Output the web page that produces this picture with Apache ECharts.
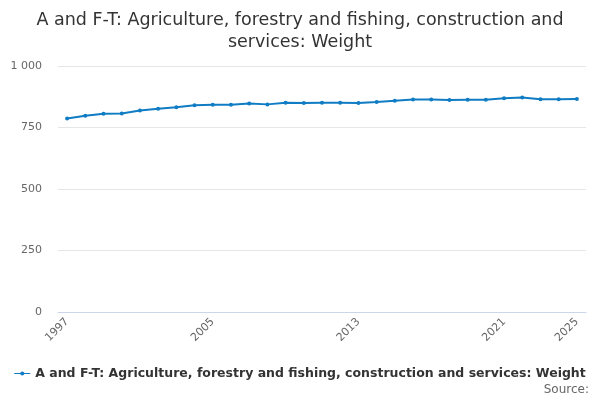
<!DOCTYPE html>
<html>
<head>
<meta charset="utf-8">
<script src="https://cdn.jsdelivr.net/npm/echarts@6/dist/echarts.min.js"></script>
<style>html,body{margin:0;padding:0;background:#fff}#c{width:600px;height:400px}</style>
</head>
<body>
<div id="c"></div>
<script>
var years = ['1997','1998','1999','2000','2001','2002','2003','2004','2005','2006','2007','2008','2009','2010','2011','2012','2013','2014','2015','2016','2017','2018','2019','2020','2021','2022','2023','2024','2025'];
var weights = [787,798,806,807,819,826,832,840,842,842,848,844,851,850,851,851,850,854,859,864,864,862,863,863,869,872,865,865,866];
var yTicks = [0,250,500,750,1000];
var seriesName = 'A and F-T: Agriculture, forestry and fishing, construction and services: Weight';
var titleText = 'A and F-T: Agriculture, forestry and fishing, construction and\nservices: Weight';

var chart = echarts.init(document.getElementById('c'));
var font = 'DejaVu Sans, sans-serif';
chart.setOption({
  animation: false,
  title: {
    text: titleText,
    left: 'center',
    top: 4,
    textStyle: {fontFamily: font, fontSize: 17.5, fontWeight: 'normal', color: '#333', lineHeight: 22}
  },
  grid: {left: 58, right: 14, top: 66, bottom: 88, containLabel: false},
  legend: {
    bottom: 15,
    left: 'center',
    itemWidth: 16,
    itemHeight: 8,
    itemGap: 5,
    textStyle: {fontFamily: font, fontSize: 12.5, fontWeight: 'bold', color: '#333'},
    data: [{name: seriesName, icon: 'path://M0,3.5 L16,3.5 L16,4.5 L0,4.5 Z M8,2 A2,2 0 1 1 7.99,2 Z'}]
  },
  graphic: [{
    type: 'text', right: 11, bottom: 4,
    style: {text: 'Source:', fontFamily: font, fontSize: 12, fill: '#666'}
  }],
  xAxis: {
    type: 'category',
    data: years,
    boundaryGap: true,
    axisLine: {lineStyle: {color: '#ccd6eb'}},
    axisTick: {alignWithLabel: true, interval: 1, length: 8, lineStyle: {color: '#ccd6eb'}},
    axisLabel: {
      rotate: 45,
      fontFamily: font, fontSize: 11, color: '#666', margin: 8,
      interval: function (i) { return i % 8 === 0 || i === years.length - 1; }
    }
  },
  yAxis: {
    type: 'value',
    min: yTicks[0], max: yTicks[yTicks.length - 1], interval: 250,
    axisLine: {show: false},
    axisTick: {show: false},
    splitLine: {lineStyle: {color: '#e6e6e6'}},
    axisLabel: {
      fontFamily: font, fontSize: 11, color: '#666', margin: 16,
      formatter: function (v) { return String(v).replace(/\B(?=(\d{3})+(?!\d))/g, ' '); }
    }
  },
  series: [{
    name: seriesName,
    type: 'line',
    data: weights,
    symbol: 'circle',
    symbolSize: 4,
    itemStyle: {color: '#0f7cc4'},
    lineStyle: {width: 2, color: '#0f7cc4'}
  }]
});
</script>
</body>
</html>
